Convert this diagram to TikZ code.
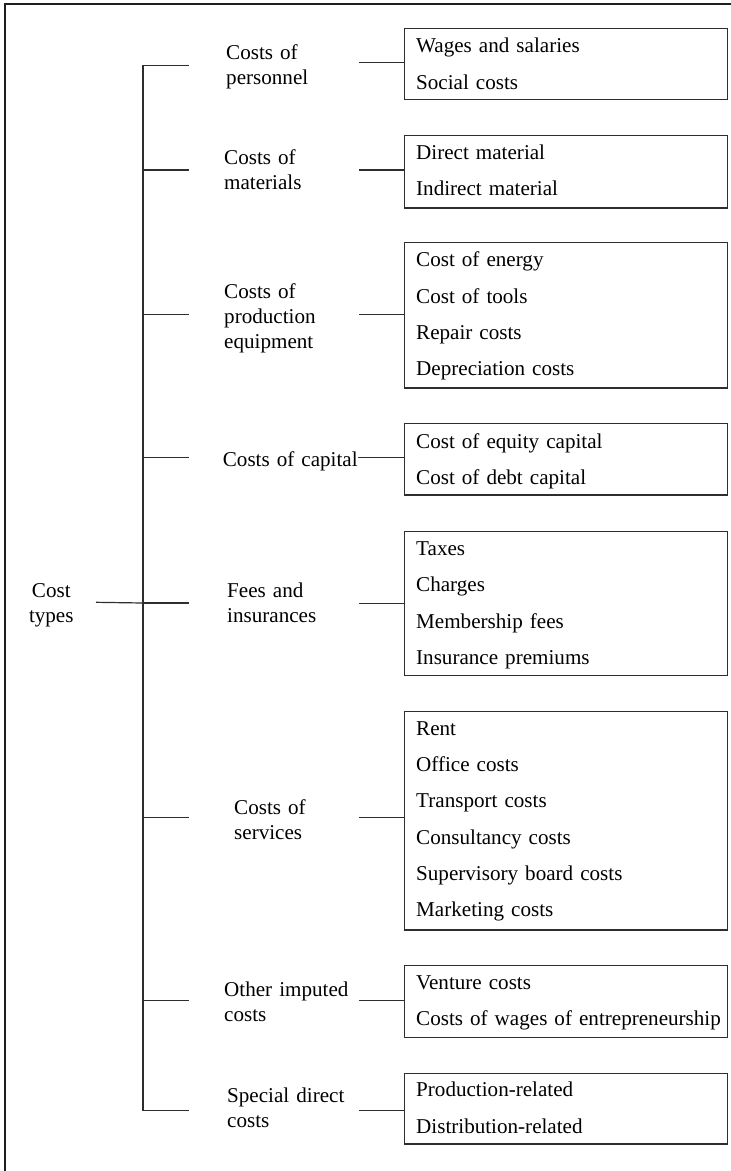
\documentclass[tikz,border=0pt]{standalone}
\usepackage{fontspec}
\setmainfont{Liberation Serif}
\begin{document}
\begin{tikzpicture}[x=1pt,y=-1pt,
  frameline/.style={line width=2pt, draw=black!88},
  link/.style={line width=1.2pt, draw=black!82},
  listbox/.style={draw=black!82, line width=1.3pt, rectangle, inner sep=0pt,
    minimum width=323pt, anchor=north west},
  listtext/.style={anchor=base west, inner sep=0pt, text width=305pt, align=left,
    font=\fontsize{21.1pt}{36.3pt}\selectfont},
  cat/.style={anchor=base west, inner sep=0pt, text width=150pt, align=left,
    font=\fontsize{21.1pt}{25pt}\selectfont},
]
\useasboundingbox (0,0) rectangle (731,1171);

% outer frame (top and left edges)
\coordinate (fa) at (5,4);
\coordinate (fb) at (731,4);
\coordinate (fc) at (5,1171);
\draw[frameline] (fb) -- (fa) -- (fc);

% root
\node[anchor=base, inner sep=0pt, text width=70pt, align=center,
  font=\fontsize{21.1pt}{24.5pt}\selectfont] (root) at (51.3,597.7) {Cost\\types};

% cost categories
\node[cat] (c1) at (226,59.3)   {Costs of\\personnel};
\node[cat] (c2) at (224,164.8)  {Costs of\\materials};
\node[cat] (c3) at (224,298.3)  {Costs of\\production\\equipment};
\node[cat] (c4) at (222.7,466)  {Costs of capital};
\node[cat] (c5) at (227,597.5)  {Fees and\\insurances};
\node[cat] (c6) at (234,814)    {Costs of\\services};
\node[cat] (c7) at (224,996)    {Other imputed\\costs};
\node[cat] (c8) at (227,1102.7) {Special direct\\costs};

% item boxes
\node[listbox, minimum height=71.3pt]  (b1) at (404,27.7)  {};
\node[listbox, minimum height=72.3pt]  (b2) at (404,135)   {};
\node[listbox, minimum height=145.6pt] (b3) at (404,241.7) {};
\node[listbox, minimum height=71.5pt]  (b4) at (404,422.7) {};
\node[listbox, minimum height=144pt]   (b5) at (404,531)   {};
\node[listbox, minimum height=218.5pt] (b6) at (404,710.7) {};
\node[listbox, minimum height=71.7pt]  (b7) at (404,965)   {};
\node[listbox, minimum height=70.6pt]  (b8) at (404,1072.7){};

\node[listtext] (i1) at (416,52.7)  {Wages and salaries\\Social costs};
\node[listtext] (i2) at (416,159.5) {Direct material\\Indirect material};
\node[listtext] (i3) at (416,266.7) {Cost of energy\\Cost of tools\\Repair costs\\Depreciation costs};
\node[listtext] (i4) at (416,448)   {Cost of equity capital\\Cost of debt capital};
\node[listtext] (i5) at (416,555.5) {Taxes\\Charges\\Membership fees\\Insurance premiums};
\node[listtext] (i6) at (416,735.3) {Rent\\Office costs\\Transport costs\\Consultancy costs\\Supervisory board costs\\Marketing costs};
\node[listtext] (i7) at (416,989.5) {Venture costs\\Costs of wages of entrepreneurship};
\node[listtext] (i8) at (416,1096.7){Production-related\\Distribution-related};

% trunk junctions and branch ends
\foreach \k/\y in {1/65.3,2/170,3/314.3,4/457.7,5/603,6/817.7,7/1000.7,8/1110.7}{
  \coordinate (t\k) at (143,\y);
  \coordinate (s\k) at (189,\y);
}
% label-side ends of the box connectors
\foreach \k/\y/\x in {1/62.7/359,2/170/359,3/314.3/359,4/457.7/358,5/603.3/359,6/817.7/359,7/1000.7/359,8/1110.7/359}{
  \coordinate (e\k) at (\x,\y);
}
\coordinate (r0) at (96,602.3);

% trunk and branches
\draw[link] (t1) -- (t8);
\foreach \k in {1,...,8}{
  \draw[link] (t\k) -- (s\k);
}
\draw[link] (r0) -- (t5);

% category to box connectors
\foreach \k in {1,...,8}{
  \draw[link] (e\k) -- (e\k -| b\k.west);
}
\end{tikzpicture}
\end{document}
